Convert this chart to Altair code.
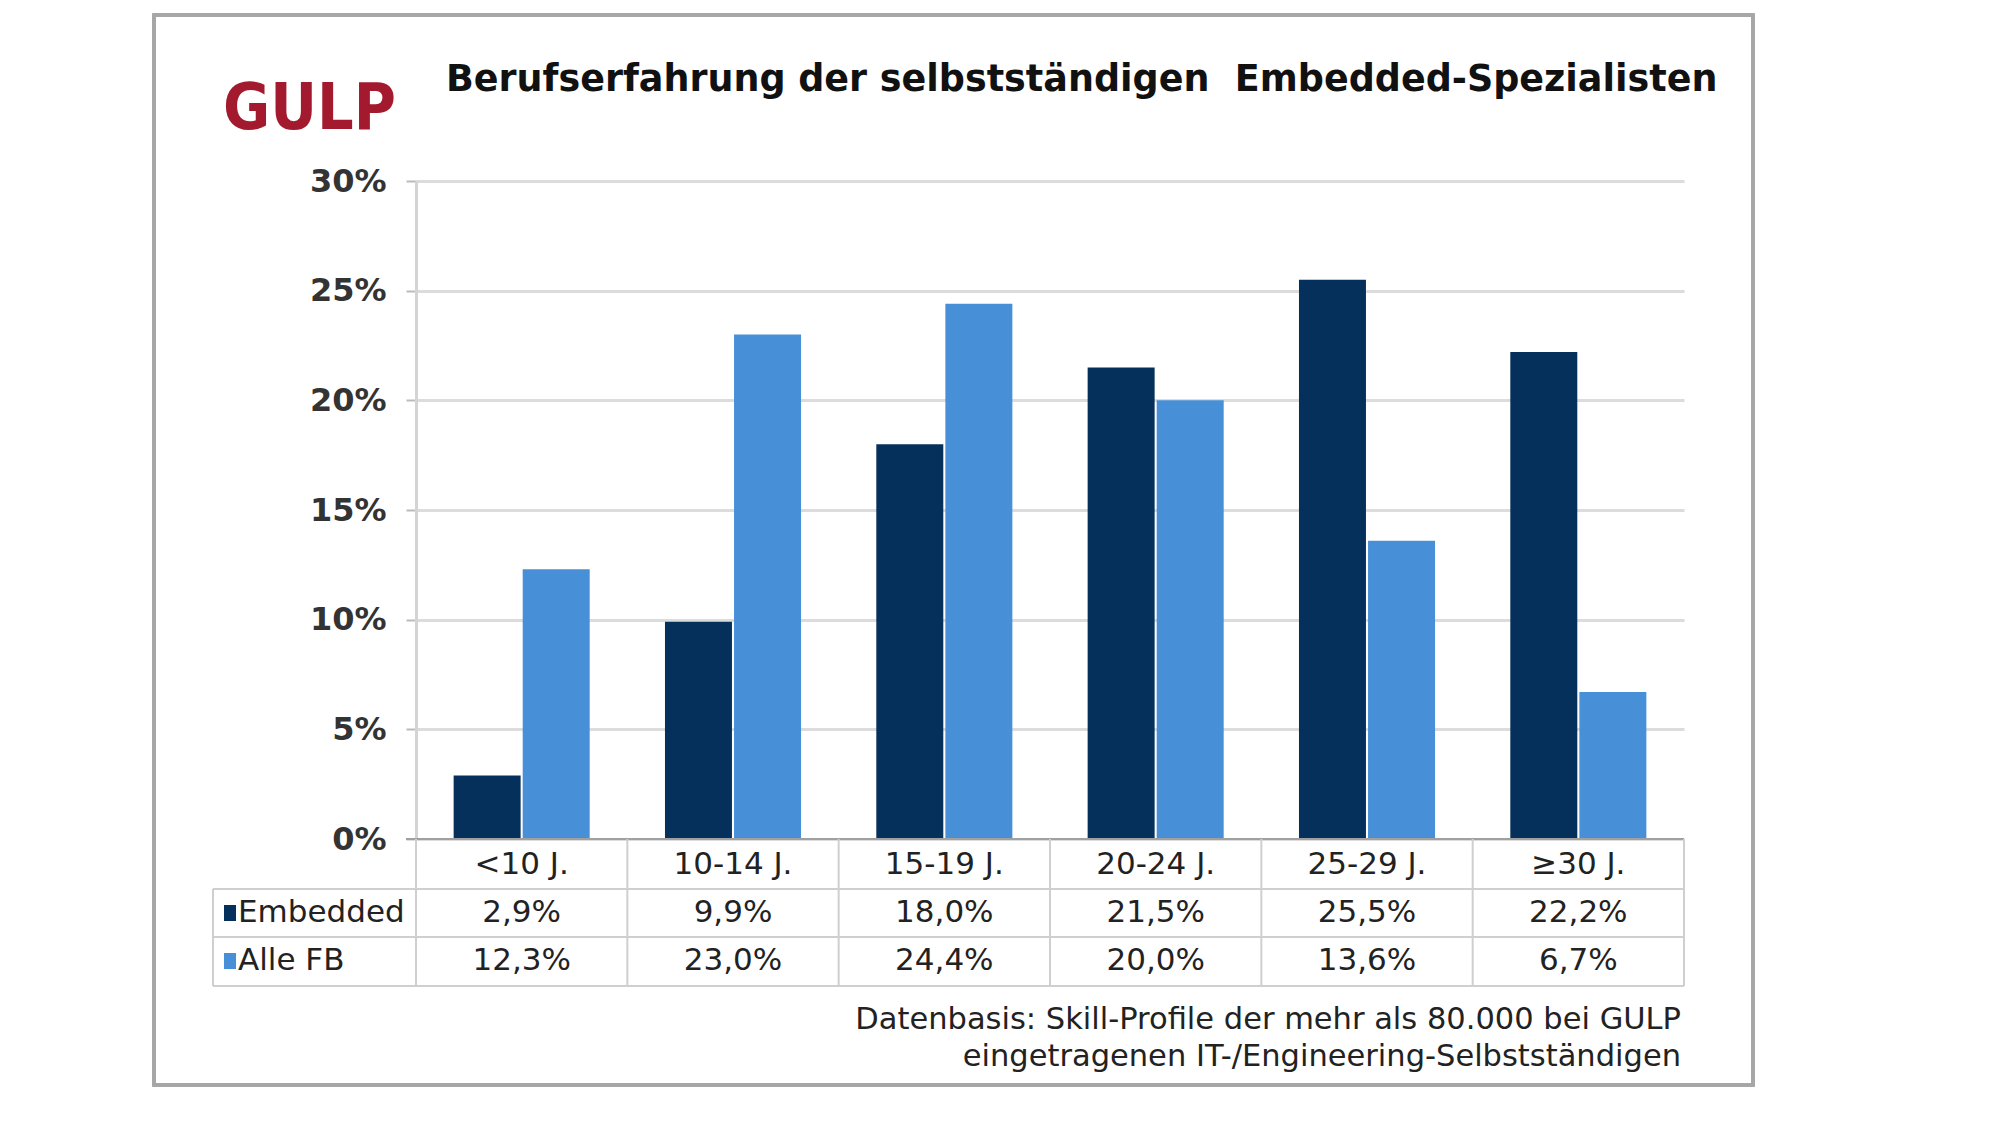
import altair as alt
import pandas as pd

categories = ["<10 J.", "10-14 J.", "15-19 J.", "20-24 J.", "25-29 J.", "≥30 J."]
series = ["Embedded", "Alle FB"]
embedded = [2.9, 9.9, 18.0, 21.5, 25.5, 22.2]
alle_fb = [12.3, 23.0, 24.4, 20.0, 13.6, 6.7]
y_ticks = [0, 5, 10, 15, 20, 25, 30]
title_text = "Berufserfahrung der selbstständigen\u00a0 Embedded-Spezialisten"
logo_text = "GULP"
footnote = ["Datenbasis: Skill-Profile der mehr als 80.000 bei GULP",
            "eingetragenen IT-/Engineering-Selbstständigen"]

DARK = "#06305c"
LIGHT = "#4790d8"
GRID = "#dcdcdc"
TABLE = "#cfcfcf"

rows = []
for c, e, a in zip(categories, embedded, alle_fb):
    rows.append({"cat": c, "series": "Embedded", "value": e,
                 "label": f"{e:.1f}".replace(".", ",") + "%"})
    rows.append({"cat": c, "series": "Alle FB", "value": a,
                 "label": f"{a:.1f}".replace(".", ",") + "%"})
df = pd.DataFrame(rows)
cat_df = pd.DataFrame({"cat": categories})

W, H = 1268, 658
ROW1, ROW2, ROW3 = 684, 732, 780   # row centres of the table
L1, L2, L3 = 708, 756, 805          # row separators
LEFT = -203

FONT = "DejaVu Sans"
TFS = 31

xscale = alt.Scale(domain=categories, paddingInner=0, paddingOuter=0)

base = alt.Chart(df)

frame = alt.Chart(cat_df).mark_rect(fillOpacity=0, stroke="#a6a6a6", strokeWidth=3).encode(
    x=alt.value(-262), x2=alt.value(1337), y=alt.value(-166), y2=alt.value(904))

bars = base.mark_bar().encode(
    x=alt.X("cat:N", scale=xscale, sort=categories, axis=None),
    xOffset=alt.XOffset("series:N", sort=series,
                        scale=alt.Scale(domain=series, paddingInner=0.03, paddingOuter=0.545)),
    y=alt.Y("value:Q", scale=alt.Scale(domain=[0, 30], nice=False),
            axis=alt.Axis(values=y_ticks, labelExpr="datum.value + '%'", title=None,
                          labelFont=FONT, labelFontWeight="bold", labelFontSize=32,
                          labelColor="#333333", labelPadding=20, tickSize=10,
                          tickColor="#bbbbbb", tickWidth=2, domainColor="#d4d4d4",
                          domainWidth=3, gridColor=GRID, gridWidth=3)),
    color=alt.Color("series:N", scale=alt.Scale(domain=series, range=[DARK, LIGHT]), legend=None),
)

baseline = alt.Chart(cat_df).mark_rule(color="#a0a0a0", strokeWidth=2).encode(
    x=alt.value(-10), x2=alt.value(W), y=alt.value(H))

hlines = alt.Chart(pd.DataFrame({"yy": [L1, L2, L3]})).mark_rule(color=TABLE, strokeWidth=2).encode(
    x=alt.value(LEFT), x2=alt.value(W), y=alt.Y("yy:Q", scale=None))

vlines = alt.Chart(cat_df).mark_rule(color=TABLE, strokeWidth=2).encode(
    x=alt.X("cat:N", scale=xscale, sort=categories, bandPosition=0, axis=None),
    y=alt.value(H), y2=alt.value(L3))
vright = alt.Chart(cat_df).mark_rule(color=TABLE, strokeWidth=2).encode(
    x=alt.value(W), y=alt.value(H), y2=alt.value(L3))
vleft = alt.Chart(cat_df).mark_rule(color=TABLE, strokeWidth=2).encode(
    x=alt.value(LEFT), y=alt.value(L1), y2=alt.value(L3))

txt_style = dict(font=FONT, fontSize=TFS, color="#222222", baseline="middle", align="center")

cat_text = alt.Chart(cat_df).mark_text(**txt_style).encode(
    x=alt.X("cat:N", scale=xscale, sort=categories, axis=None),
    y=alt.value(ROW1), text="cat:N")
emb_text = base.transform_filter(alt.datum.series == "Embedded").mark_text(**txt_style).encode(
    x=alt.X("cat:N", scale=xscale, sort=categories, axis=None),
    y=alt.value(ROW2), text="label:N")
all_text = base.transform_filter(alt.datum.series == "Alle FB").mark_text(**txt_style).encode(
    x=alt.X("cat:N", scale=xscale, sort=categories, axis=None),
    y=alt.value(ROW3), text="label:N")

leg_df = pd.DataFrame({"series": series, "yy": [ROW2, ROW3]})
leg_sq = alt.Chart(leg_df).transform_calculate(y1="datum.yy - 8", y2="datum.yy + 8").mark_rect().encode(
    x=alt.value(-192), x2=alt.value(-180),
    y=alt.Y("y1:Q", scale=None), y2="y2:Q",
    color=alt.Color("series:N", scale=alt.Scale(domain=series, range=[DARK, LIGHT]), legend=None))
leg_txt = alt.Chart(leg_df).mark_text(font=FONT, fontSize=TFS, color="#222222",
                                      baseline="middle", align="left").encode(
    x=alt.value(-178), y=alt.Y("yy:Q", scale=None), text="series:N")

title = alt.Chart(pd.DataFrame({"t": [title_text]})).mark_text(
    font=FONT, fontSize=36.5, fontWeight="bold", color="#111111", align="left", baseline="middle").encode(
    x=alt.value(30), y=alt.value(-101), text="t:N")

logo = alt.Chart(pd.DataFrame({"t": [logo_text]})).mark_text(
    font="DejaVu Sans Condensed, Liberation Sans Narrow, Liberation Sans, DejaVu Sans",
    fontSize=64, fontWeight="bold", color="#a31a2e",
    align="left", baseline="alphabetic").encode(
    x=alt.value(-193), y=alt.value(-52), text="t:N")

foot = alt.Chart(pd.DataFrame({"t": footnote, "yy": [839, 876]})).mark_text(
    font=FONT, fontSize=30.5, color="#222222", align="right", baseline="middle").encode(
    x=alt.value(1265), y=alt.Y("yy:Q", scale=None), text="t:N")

chart = alt.layer(
    frame, bars, baseline, hlines, vlines, vright, vleft,
    cat_text, emb_text, all_text, leg_sq, leg_txt, title, logo, foot
).resolve_scale(y="independent").properties(
    width=W, height=H,
    padding={"left": 416, "top": 181, "right": 316, "bottom": 285},
    autosize=alt.AutoSizeParams(type="none"),
    background="white",
).configure_view(stroke=None)

chart.save("out.html", embed_options={"renderer": "svg", "actions": False})
